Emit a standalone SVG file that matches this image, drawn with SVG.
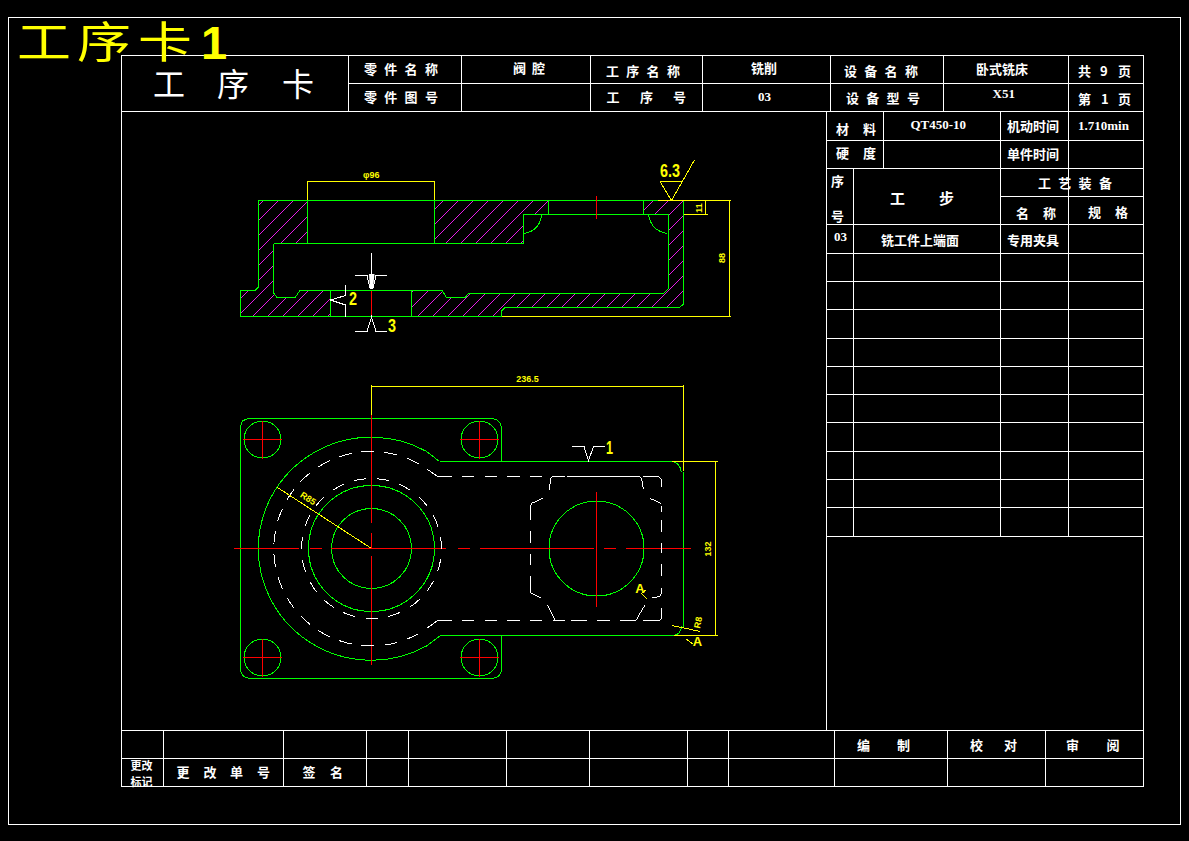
<svg xmlns="http://www.w3.org/2000/svg" width="1189" height="841" viewBox="0 0 1189 841">
<style>
text{font-family:"Noto Sans CJK SC","Liberation Sans",sans-serif;fill:#fff;font-size:13px;font-weight:700}
.l{fill:none;stroke:#fff;stroke-width:1;shape-rendering:crispEdges}
.g{fill:none;stroke:#0f0;stroke-width:1;shape-rendering:crispEdges}
.r{fill:none;stroke:#f00;stroke-width:1;shape-rendering:crispEdges}
.y{fill:none;stroke:#ff0;stroke-width:1;shape-rendering:crispEdges}
.h{fill:url(#hatch);stroke:none}
.d{fill:none;stroke:#fff;stroke-width:1;shape-rendering:crispEdges}
text.m{font-family:"Liberation Serif",serif}
text.n{font-family:"Liberation Sans",sans-serif;fill:#ff0;font-size:9px}
text.c{font-family:"Liberation Sans",sans-serif;fill:#ff0;font-size:18px;font-weight:700}
text.b{fill:#ff0;font-size:54px;font-weight:400}
text.w{font-size:32px;font-weight:400}
text.s{font-size:11px}
text.t{font-size:15px}
</style>
<defs>
<pattern id="hatch" patternUnits="userSpaceOnUse" x="-1" y="0" width="15" height="15">
<path d="M15.5,-.5L-.5,15.5" stroke="#e61ee6" stroke-width="1" fill="none" shape-rendering="crispEdges"/>
</pattern>
</defs>
<rect width="1189" height="841" fill="#000"/>
<g id="frame">
<rect class="l" x="8.5" y="17.5" width="1172" height="807"/>
<rect class="l" x="121.5" y="55.5" width="1022" height="731"/>
</g>
<g id="title-mark">
<text class="b" transform="translate(0,58) scale(1,.8)" x="17 77 138" y="0">工序卡</text>
<text class="b" x="201" y="59" style="font-family:'Liberation Sans',sans-serif;font-size:47px;font-weight:700">1</text>
</g>
<g id="header-table">
<path class="l" d="M348.5,83.5H1143.5M121.5,111.5H1143.5M348.5,55.5V111.5M461.5,55.5V111.5M590.5,55.5V111.5M702.5,55.5V111.5M830.5,55.5V111.5M943.5,55.5V111.5M1068.5,55.5V111.5"/>
<text class="w" x="153 217 282" y="96">工序卡</text>
<text x="364" y="74" letter-spacing="7.3">零件名称</text>
<text x="364" y="102" letter-spacing="7.3">零件图号</text>
<text x="513" y="73" letter-spacing="6">阀腔</text>
<text x="606" y="76" letter-spacing="7.3">工序名称</text>
<text x="606.5 628 640 661 673" y="102">工 序 号</text>
<text x="751" y="73">铣削</text>
<text class="m" x="758" y="101">03</text>
<text x="844" y="76" letter-spacing="7.3">设备名称</text>
<text x="846" y="103" letter-spacing="7.3">设备型号</text>
<text x="976" y="74">卧式铣床</text>
<text class="m" x="992.5" y="98">X51</text>
<text x="1078 1094 1100 1110 1118" y="76">共 9 页</text>
<text x="1078 1094 1101 1110 1118" y="104">第 1 页</text>
</g>
<g id="process-table">
<path class="l" d="M826.5,111.5V730.5M853.5,168.5V536.5M883.5,111.5V168.5M1000.5,111.5V536.5M1068.5,111.5V536.5M826.5,140.5H1143.5M826.5,168.5H1143.5M1000.5,196.5H1143.5M826.5,224.5H1143.5M826.5,253.5H1143.5M826.5,281.5H1143.5M826.5,309.5H1143.5M826.5,338.5H1143.5M826.5,366.5H1143.5M826.5,394.5H1143.5M826.5,422.5H1143.5M826.5,451.5H1143.5M826.5,479.5H1143.5M826.5,507.5H1143.5M826.5,536.5H1143.5"/>
<text x="836 851 863" y="134">材 料</text>
<text class="m" x="910.5" y="128.5">QT450-10</text>
<text x="1007" y="131">机动时间</text>
<text class="m" x="1078" y="130">1.710min</text>
<text x="836 851 863" y="158">硬 度</text>
<text x="1007" y="159">单件时间</text>
<text x="831" y="186">序</text>
<text x="831" y="221">号</text>
<text class="t" x="890 915 939" y="204">工 步</text>
<text x="1038" y="188" letter-spacing="7.3">工艺装备</text>
<text x="1016 1031 1043" y="218">名 称</text>
<text x="1088 1103 1115" y="217">规 格</text>
<text class="m" x="834" y="241">03</text>
<text x="881" y="245">铣工件上端面</text>
<text x="1007" y="245">专用夹具</text>
</g>
<g id="revision-table">
<path class="l" d="M121.5,730.5H1143.5M121.5,758.5H1143.5M163.5,730.5V786.5M283.5,730.5V786.5M366.5,730.5V786.5M408.5,730.5V786.5M506.5,730.5V786.5M589.5,730.5V786.5M687.5,730.5V786.5M728.5,730.5V786.5M834.5,730.5V786.5M947.5,730.5V786.5M1045.5,730.5V786.5"/>
<text class="s" x="130.5" y="769.5">更改</text>
<text class="s" x="130.5" y="785.5">标记</text>
<text x="176.5 191 203.5 218 230 245 257" y="777">更 改 单 号</text>
<text x="302.5 317 330" y="777">签 名</text>
<text x="857 877 897" y="750">编 制</text>
<text x="970 987 1004" y="750">校 对</text>
<text x="1066 1086 1106.5" y="750">审 阅</text>
</g>
<g id="section-view">
<path class="h" d="M258.5,200.5H307.5V243.5H273.5V293L277,297.5H295L300,290.5H330.5V316.5H240.5V290.5H255L258.5,287Z"/>
<path class="h" d="M434.5,200.5H548.5V214.5H523.5V243.5H434.5Z"/>
<path class="h" d="M643.5,200.5H683.5V304L679.5,307.5H505L501.5,311V316.5H411.5V290.5H442L446.5,297.5H465L468.5,293.5H663.5L668.5,288.5V214.5H643.5Z"/>
<path class="g" d="M658,200.5H258.5V287L255,290.5H240.5V316.5H501.5V311L505,307.5H679.5L683.5,304V200.5"/>
<path class="g" d="M307.5,200.5V243.5M434.5,200.5V243.5M273.5,243.5H523.5V214.5H668.5V288.5L663.5,293.5H468.5L465,297.5H446.5L442,290.5H300L295,297.5H277L273.5,293V243.5M330.5,290.5V316.5M411.5,290.5V316.5M548.5,200.5V214.5M643.5,200.5V214.5"/>
<path class="g" d="M541.5,214.5Q540,231 523.5,233.5M648.5,214.5Q651,231 667.5,233.5"/>
<path class="r" d="M371.5,290.5V316.5M596.5,196V219"/>
<path class="y" d="M307.5,200V181.5H434.5V200M658,200.5H730.5M683.5,214.5H707.5M705.5,200.5V214.5M729.5,200.5V316.5M501.5,316.5H730.5"/>
<path class="y" d="M660,181.5H682M660,181.5L671.5,200.5L694.5,160"/>
<path class="d" d="M371.5,253V288M355,275.5H367L370,288M387,275.5H376L373,288M355,331.5H367L371.5,317L376,331.5H387M345.5,285V295.5L330.5,300L345.5,305V316.5"/>
<path fill="#fff" d="M369,274H374.5L373,289H370Z"/>
<text class="n" x="363" y="177.5">φ96</text>
<text class="n" transform="translate(702,208) rotate(-90)" text-anchor="middle">11</text>
<text class="n" transform="translate(725,258) rotate(-90)" text-anchor="middle">88</text>
<text class="c" x="660" y="177" textLength="20" lengthAdjust="spacingAndGlyphs">6.3</text>
<text class="c" x="349" y="305" textLength="8" lengthAdjust="spacingAndGlyphs">2</text>
<text class="c" x="388" y="332" textLength="8" lengthAdjust="spacingAndGlyphs">3</text>
</g>
<g id="plan-view">
<path class="g" d="M439.5,461.5L426.3,451.3A113,111.5 0 1 0 426.3,646.1L440.5,635.5H674Q681,634 681.5,626.5"/>
<path class="g" d="M439.5,461.5H672.5Q680,463 681.5,472.5M683.5,471.5V626.5"/>
<path class="g" d="M501.5,461.5V430Q501.5,418.5 490,418.5H250Q240.5,418.5 240.5,428V668Q240.5,678.5 252,678.5H490Q501.5,678.5 501.5,668V635.5"/>
<circle class="g" cx="371.5" cy="548.5" r="63"/>
<circle class="g" cx="371.5" cy="548.5" r="40"/>
<circle class="g" cx="596.5" cy="548.5" r="47.5"/>
<circle class="g" cx="262.5" cy="439.5" r="18.5"/>
<circle class="g" cx="479.5" cy="439.5" r="18.5"/>
<circle class="g" cx="262.5" cy="657.5" r="18.5"/>
<circle class="g" cx="479.5" cy="657.5" r="18.5"/>
<path class="r" d="M371.5,415V522.5M371.5,533V548M371.5,556V665M234,548.5H299M310,548.5H321.5M331,548.5H446M457.5,548.5H469.5M479.5,548.5H593.5M604,548.5H616M626,548.5H691M596.5,492V607"/>
<path class="r" d="M243,439.5H282M262.5,420.5V458.5M460,439.5H499M479.5,420.5V458.5M243,657.5H282M262.5,638.5V676.5M460,657.5H499M479.5,638.5V676.5"/>
<path class="d" stroke-dasharray="13 10" d="M437.5,476.5L425,467.7A97.3,97.3 0 1 0 425,629.7L437.5,620.5"/>
<circle class="d" cx="371.5" cy="548.5" r="70" stroke-dasharray="12.5 10.65" stroke-dashoffset="12.5"/>
<g transform="translate(480 370) scale(.33333)">
<path class="d" style="stroke-width:3" d="M-128,319H-85M-54,319H-17M15,319H50M81,319H120M150,319H186M208,360L212,325L218,319H255M262,319H478L485,325L490,358M490,319H535L545,328V352M510,385L543,400M545,408V425M545,450V487M545,518V550M545,583V618M545,655V668L538,680L516,683M545,715V745L540,751H490M468,751L495,705M420,751H468M350,751H390M273,751H320M218,751H255M225,751L202,705M150,751H186M81,751H120M15,751H50M-54,751H-17M-128,751H-85M188,385L155,400L151,408V450M151,483V520M151,552V586M151,618V668L182,683"/>
</g>
<path class="y" d="M371.5,415V384.5M371.5,386.5H683.5M683.5,384.5V471M672,461.5H717.5M715.5,461.5V635.5M674,635.5H717.5"/>
<path class="y" d="M277.5,487.5L371.5,548.5M672,625.5L700.5,631.5M641,593L647,599M645.5,590L641,594M686,639L693,644"/>
<path class="d" d="M572,446.5H584L588.5,460.5L593.5,446.5H605"/>
<text class="n" transform="translate(306.5,501) rotate(33)" text-anchor="middle">R85</text>
<text class="n" x="527.5" y="381.5" text-anchor="middle">236.5</text>
<text class="n" transform="translate(711,549) rotate(-90)" text-anchor="middle">132</text>
<text class="n" transform="translate(701,623) rotate(-80)" text-anchor="middle">R8</text>
<text class="c" x="606" y="454" textLength="7" lengthAdjust="spacingAndGlyphs">1</text>
<text class="n" style="font-size:13px" x="640" y="593" text-anchor="middle">A</text>
<text class="n" style="font-size:13px" x="697.5" y="646" text-anchor="middle">A</text>
</g>
</svg>
